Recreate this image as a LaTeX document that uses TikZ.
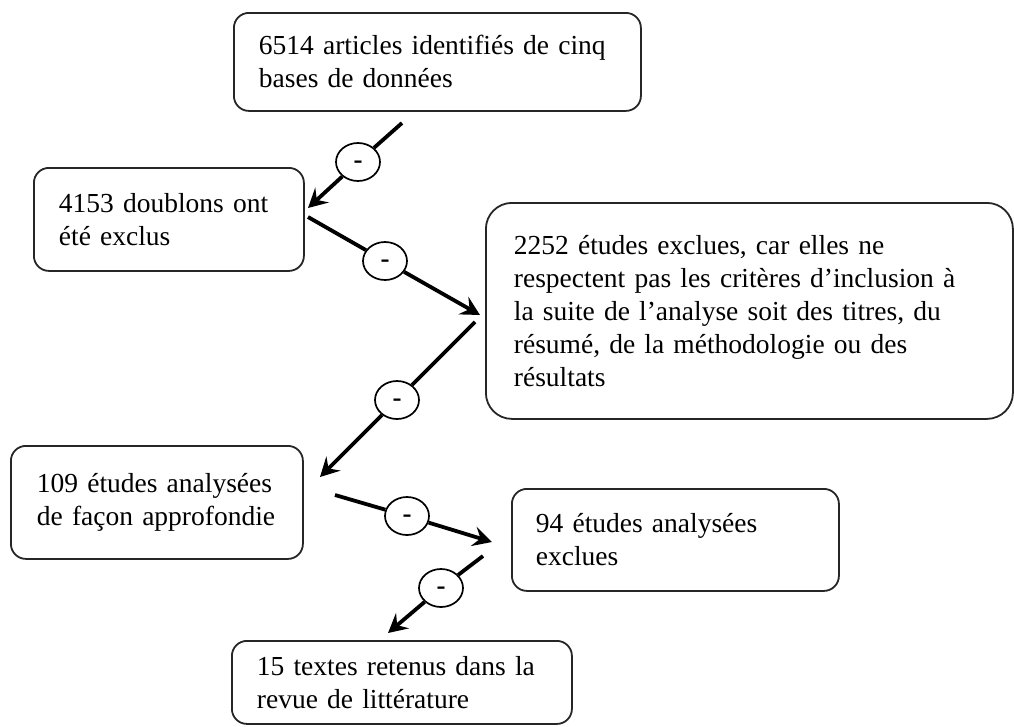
\documentclass[tikz,border=0pt]{standalone}
\usepackage{fontspec}
\setmainfont{Liberation Serif}
\usetikzlibrary{arrows.meta,shapes.geometric}
\begin{document}
\begin{tikzpicture}[x=1pt,y=-1pt,
  box/.style={draw=black!85, line width=1.8pt, rounded corners=15pt, align=left,
    inner xsep=25pt, inner ysep=0pt, anchor=north west,
    font=\fontsize{27.5}{33}\selectfont},
  minus/.style={ellipse, draw=black, line width=1.7pt, fill=white,
    minimum width=44pt, minimum height=38pt, inner sep=0pt,
    text height=0pt, text depth=0pt,
    font=\fontsize{27}{27}\selectfont\bfseries},
  seg/.style={line width=3.8pt},
  flow/.style={line width=3.8pt, -{Stealth[length=19pt,width=20pt,inset=7pt]}}]
\useasboundingbox (0,0) rectangle (1014,726);
% boxes
\node[box, text width=357pt, minimum height=98pt] (b1) at (233,12)
  {6514 articles identifiés de cinq\\bases de données};
\node[box, text width=220pt, minimum height=103pt] (b2) at (33,167)
  {4153 doublons ont\\été exclus};
\node[box, rounded corners=26pt, inner xsep=28pt, text width=471pt, minimum height=216pt] (b3) at (485,202)
  {2252 études exclues, car elles ne\\respectent pas les critères d’inclusion à\\la suite de l’analyse soit des titres, du\\résumé, de la méthodologie ou des\\résultats};
\node[box, inner xsep=26pt, text width=240pt, minimum height=113pt] (b4) at (10,445)
  {109 études analysées\\de façon approfondie};
\node[box, inner xsep=24pt, text width=279pt, minimum height=102pt] (b5) at (511,488)
  {94 études analysées\\exclues};
\node[box, text width=290pt, minimum height=83pt] (b6) at (231,640)
  {15 textes retenus dans la\\revue de littérature};
% connector end points
\coordinate (s1) at (402,123); \coordinate (t1) at (308,208);
\coordinate (s2) at (308,217); \coordinate (t2) at (480,315);
\coordinate (s3) at (475,322); \coordinate (t3) at (320,477);
\coordinate (s4) at (335,495); \coordinate (t4) at (492,542);
\coordinate (s5) at (483,556); \coordinate (t5) at (388,633);
% minus signs
\node[minus] (m1) at (358,162) {\raisebox{-6pt}{-}};
\node[minus] (m2) at (385,261) {\raisebox{-6pt}{-}};
\node[minus] (m3) at (397,400) {\raisebox{-6pt}{-}};
\node[minus] (m4) at (407,516) {\raisebox{-6pt}{-}};
\node[minus] (m5) at (441,588) {\raisebox{-6pt}{-}};
% connectors
\draw[seg] (s1) -- (m1); \draw[flow] (m1) -- (t1);
\draw[seg] (s2) -- (m2); \draw[flow] (m2) -- (t2);
\draw[seg] (s3) -- (m3); \draw[flow] (m3) -- (t3);
\draw[seg] (s4) -- (m4); \draw[flow] (m4) -- (t4);
\draw[seg] (s5) -- (m5); \draw[flow] (m5) -- (t5);
\end{tikzpicture}
\end{document}
